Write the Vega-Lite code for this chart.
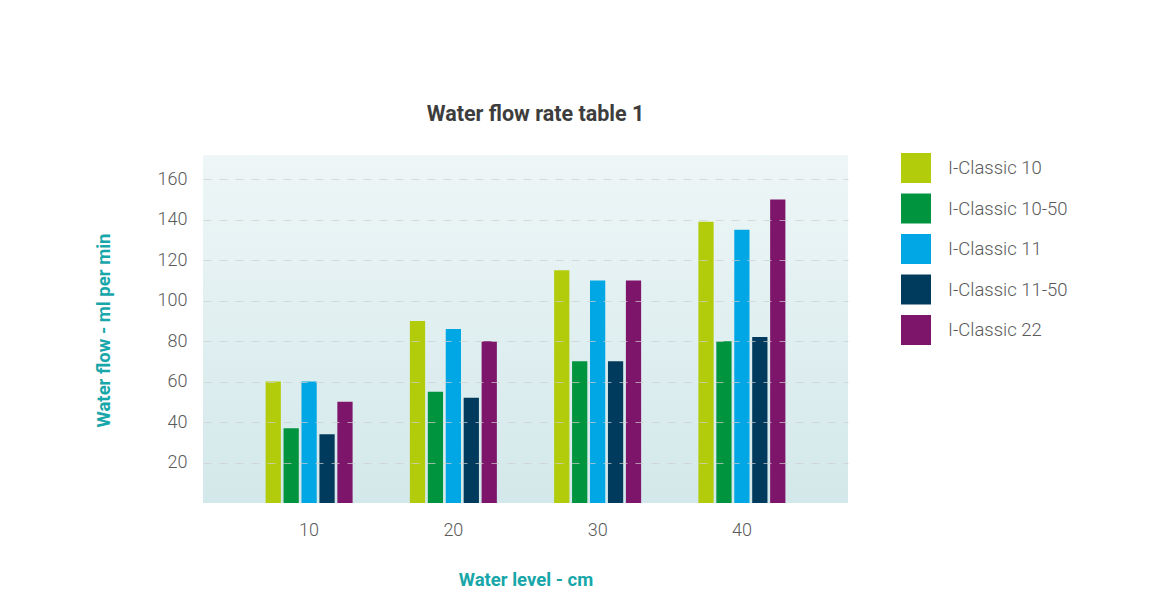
{
  "$schema": "https://vega.github.io/schema/vega-lite/v6.json",
  "autosize": {"type": "none"},
  "padding": {"left": 203, "top": 155, "right": 317, "bottom": 89},
  "width": 645,
  "height": 348,
  "background": "white",
  "title": {
    "text": "Water flow rate table 1",
    "font": "Roboto",
    "fontSize": 21.5,
    "fontWeight": "bold",
    "color": "#3d3d3d",
    "anchor": "middle",
    "offset": 28,
    "dx": 10
  },
  "config": {
    "font": "Roboto",
    "view": {
      "stroke": null,
      "fill": {
        "gradient": "linear",
        "x1": 0, "y1": 0, "x2": 0, "y2": 1,
        "stops": [
          {"offset": 0, "color": "#eef6f7"},
          {"offset": 1, "color": "#d3e8ea"}
        ]
      }
    }
  },
  "data": {
    "values": [
      {"level": "10", "model": "I-Classic 10", "flow": 60},
      {"level": "10", "model": "I-Classic 10-50", "flow": 37},
      {"level": "10", "model": "I-Classic 11", "flow": 60},
      {"level": "10", "model": "I-Classic 11-50", "flow": 34},
      {"level": "10", "model": "I-Classic 22", "flow": 50},
      {"level": "20", "model": "I-Classic 10", "flow": 90},
      {"level": "20", "model": "I-Classic 10-50", "flow": 55},
      {"level": "20", "model": "I-Classic 11", "flow": 86},
      {"level": "20", "model": "I-Classic 11-50", "flow": 52},
      {"level": "20", "model": "I-Classic 22", "flow": 80},
      {"level": "30", "model": "I-Classic 10", "flow": 115},
      {"level": "30", "model": "I-Classic 10-50", "flow": 70},
      {"level": "30", "model": "I-Classic 11", "flow": 110},
      {"level": "30", "model": "I-Classic 11-50", "flow": 70},
      {"level": "30", "model": "I-Classic 22", "flow": 110},
      {"level": "40", "model": "I-Classic 10", "flow": 139},
      {"level": "40", "model": "I-Classic 10-50", "flow": 80},
      {"level": "40", "model": "I-Classic 11", "flow": 135},
      {"level": "40", "model": "I-Classic 11-50", "flow": 82},
      {"level": "40", "model": "I-Classic 22", "flow": 150}
    ]
  },
  "mark": {"type": "bar"},
  "encoding": {
    "x": {
      "field": "level",
      "type": "nominal",
      "scale": {"paddingInner": 0.397, "paddingOuter": 0.434},
      "axis": {
        "title": "Water level - cm",
        "titleFont": "Roboto",
        "titleFontSize": 18.5,
        "titleFontWeight": "bold",
        "titleColor": "#17a6a9",
        "titleBaseline": "middle",
        "titleY": 76,
        "labelAngle": 0,
        "labelFont": "Roboto",
        "labelFontSize": 18,
        "labelFontWeight": 300,
        "labelColor": "#5a5a5a",
        "labelPadding": 18,
        "ticks": false,
        "domain": false,
        "grid": false
      }
    },
    "xOffset": {
      "field": "model",
      "type": "nominal",
      "scale": {"paddingInner": 0.15, "paddingOuter": 0}
    },
    "y": {
      "field": "flow",
      "type": "quantitative",
      "scale": {"domain": [0, 172], "nice": false},
      "axis": {
        "title": "Water flow - ml per min",
        "titleFont": "Roboto",
        "titleFontSize": 18.5,
        "titleFontWeight": "bold",
        "titleColor": "#17a6a9",
        "titleX": -100,
        "titleY": 175,
        "titleAngle": -90,
        "titleBaseline": "middle",
        "titleAlign": "center",
        "values": [20, 40, 60, 80, 100, 120, 140, 160],
        "labelFont": "Roboto",
        "labelFontSize": 18,
        "labelFontWeight": 300,
        "labelColor": "#5a5a5a",
        "labelPadding": 16,
        "ticks": false,
        "domain": false,
        "grid": true,
        "gridColor": "#cfcfcf",
        "gridOpacity": 0.7,
        "gridDash": [8, 8],
        "zindex": 1
      }
    },
    "color": {
      "field": "model",
      "type": "nominal",
      "scale": {
        "domain": ["I-Classic 10", "I-Classic 10-50", "I-Classic 11", "I-Classic 11-50", "I-Classic 22"],
        "range": ["#b2cc0b", "#00943f", "#00a7e4", "#003a5c", "#7d156b"]
      },
      "legend": {
        "title": null,
        "orient": "none",
        "legendX": 698,
        "legendY": -2,
        "symbolType": "square",
        "symbolSize": 900,
        "symbolStrokeWidth": 0,
        "symbolOpacity": 1,
        "labelFont": "Roboto",
        "labelFontSize": 18.5,
        "labelFontWeight": 300,
        "labelColor": "#5a5a5a",
        "labelOffset": 17,
        "rowPadding": 10.5
      }
    }
  }
}
